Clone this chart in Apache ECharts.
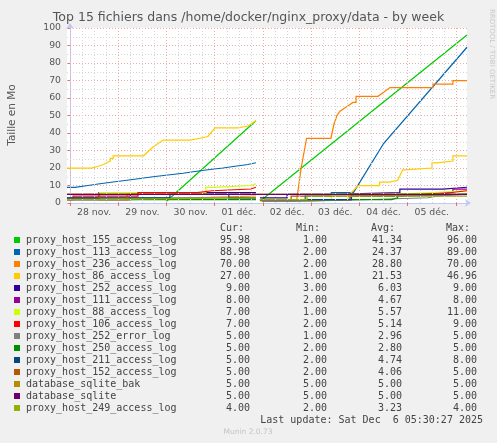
<!DOCTYPE html>
<html><head><meta charset="utf-8">
<script src="https://cdn.jsdelivr.net/npm/echarts@6/dist/echarts.min.js"></script>
<style>html,body{margin:0;padding:0;background:#f0f0f0;}#c{width:497px;height:443px;}</style>
</head><body><div id="c"></div>
<script>
// ---- texts ----
const chartTitle = 'Top 15 fichiers dans /home/docker/nginx_proxy/data - by week';
const yAxisTitle = 'Taille en Mo';
const sideText = 'RRDTOOL / TOBI OETIKER';
const lastUpdate = 'Last update: Sat Dec  6 05:30:27 2025';
const footer = 'Munin 2.0.73';
const colHeaders = ['Cur:', 'Min:', 'Avg:', 'Max:'];

// ---- x axis (hours since 28 nov. 00:00) ----
const dayLabels = ['28 nov.', '29 nov.', '30 nov.', '01 déc.', '02 déc.', '03 déc.', '04 déc.', '05 déc.'];
const dayNoons = [12, 36, 60, 84, 108, 132, 156, 180];
const midnights = [0, 24, 48, 72, 96, 120, 144, 168, 192];
const sixHours = [6, 12, 18, 30, 36, 42, 54, 60, 66, 78, 84, 90, 102, 108, 114, 126, 132, 138, 150, 156, 162, 174, 180, 186];

// ---- legend ----
const names = ['proxy_host_155_access_log', 'proxy_host_113_access_log', 'proxy_host_236_access_log', 'proxy_host_86_access_log',
  'proxy_host_252_access_log', 'proxy_host_111_access_log', 'proxy_host_88_access_log', 'proxy_host_106_access_log',
  'proxy_host_252_error_log', 'proxy_host_250_access_log', 'proxy_host_211_access_log', 'proxy_host_152_access_log',
  'database_sqlite_bak', 'database_sqlite', 'proxy_host_249_access_log'];
const colors = ['#00CC00', '#0066B3', '#FF8000', '#FFCC00', '#330099', '#990099', '#CCFF00', '#FF0000',
  '#808080', '#008F00', '#00487D', '#B35A00', '#B38F00', '#6B006B', '#8FB300'];
const curVals = ['95.98', '88.98', '70.00', '27.00', '9.00', '8.00', '7.00', '7.00', '5.00', '5.00', '5.00', '5.00', '5.00', '5.00', '4.00'];
const minVals = ['1.00', '2.00', '2.00', '1.00', '3.00', '2.00', '1.00', '2.00', '1.00', '2.00', '2.00', '2.00', '5.00', '5.00', '2.00'];
const avgVals = ['41.34', '24.37', '28.80', '21.53', '6.03', '4.67', '5.57', '5.14', '2.96', '2.80', '4.74', '4.06', '5.00', '5.00', '3.23'];
const maxVals = ['96.00', '89.00', '70.00', '46.96', '9.00', '8.00', '11.00', '9.00', '5.00', '5.00', '8.00', '5.00', '5.00', '5.00', '4.00'];

// ---- series: [hour, value] = value held from hour; [hour, value, 1] = straight ramp to it; [hour, null] = gap starts ----
const s155 = [[48, 1], [92.5, 47, 1], [92.5, null], [94.5, 1], [197.5, 96, 1]];
const s113 = [[-1.5, 9], [2.5, 10], [8.9, 11], [14.9, 12], [21.4, 13], [28.4, 14], [34.8, 15], [41.3, 16], [48.7, 17], [56.2, 18],
  [62.2, 19], [68.6, 20], [76.1, 21], [82.1, 22], [88.5, 23], [92.5, null], [94.5, 2], [117, 4], [130, 6], [141, 6], [156, 34, 1], [197.5, 89, 1]];
const s236 = [[-1.5, 2], [30, 3], [60, 4], [92.5, null], [94.5, 2], [112.8, 2], [115, 20, 1], [117.7, 37, 1], [129.8, 37], [131.3, 45, 1],
  [132.8, 50, 1], [134.3, 52.5, 1], [137.6, 55, 1], [140.8, 57.5, 1], [142.3, 61], [153.2, 61], [159.2, 66, 1], [180.5, 68], [190.5, 70], [197.5, 70]];
const s86 = [[-1.5, 20], [10.8, 21], [14.1, 22], [16.6, 23], [18.3, 24], [20, 25.5], [21.5, 27], [36.5, 27], [41.3, 32, 1], [46.4, 36, 1],
  [59.7, 37], [64.7, 38], [68.6, 39], [72.1, 43, 1], [83.6, 44], [88.5, 44], [92.5, 47, 1], [92.5, null], [94.5, 1], [116, 2], [138.3, 4],
  [143.3, 10, 1], [154, 12], [159, 13], [163, 13], [165.5, 19, 1], [166.5, 20], [180.1, 23], [182.6, 24], [190.5, 27], [197.5, 27]];
const s252 = [[-1.5, 3], [14.4, 6], [92.5, null], [94.5, 3], [108, 5], [130.3, 6], [164.1, 8], [185.5, 9], [197.5, 9]];
const s111 = [[-1.5, 2], [30, 5], [92.5, null], [94.5, 2], [140, 5], [182.6, 6], [190.5, 8], [197.5, 8]];
const s88 = [[14.4, 6], [67.6, 9], [71.6, 10], [90, 11], [92.5, null], [94.5, 1], [117, 2], [130, 5], [160, 6], [180, 7], [197.5, 7]];
const s106 = [[-1.5, 2], [1.5, 4], [33.8, 6], [63.2, 7], [70.6, 8], [90, 9], [92.5, null], [94.5, 2], [139.3, 4], [160.7, 5], [175.1, 6], [190, 7], [197.5, 7]];
const s252err = [[-1.5, 3], [92.5, null], [95.5, 1], [110.9, 2], [150, 3], [178, 4], [183, 5], [197.5, 5]];
const s250 = [[-1.5, 2], [92.5, null], [94.5, 2], [160, 3], [163, 5], [197.5, 5]];
const s211 = [[-1.5, 3], [49.7, 5], [79, 3], [92.5, null], [94.5, 2], [140, 4], [165, 5], [197.5, 5]];
const s152 = [[-1.5, 5], [14.4, 2], [28.4, 5], [92.5, null], [94.5, 2], [110, 4], [140, 5], [197.5, 5]];
const sSqliteBak = [[-1.5, 5], [197.5, 5]];
const sSqlite = [[-1.5, 5], [197.5, 5]];
const s249 = [[-1.5, 2], [14.4, 3], [92.5, null], [94.5, 2], [117.9, 4], [197.5, 4]];

const allSeries = [s155, s113, s236, s86, s252, s111, s88, s106, s252err, s250, s211, s152, sSqliteBak, sSqlite, s249];

function build(pts) {
  const out = []; let last = null;
  for (const p of pts) {
    const h = p[0], v = p[1], ramp = p[2];
    if (v === null) { if (last !== null) out.push([h, last]); out.push([h, '-']); last = null; continue; }
    if (last !== null && !ramp && v !== last) out.push([h, last]);
    out.push([h, v]); last = v;
  }
  return out;
}

const chart = echarts.init(document.getElementById('c'), null, { renderer: 'canvas' });
const FONT = 'DejaVu Sans';
const MONO = 'DejaVu Sans Mono';
const GRID = { left: 67, top: 28, width: 400, height: 175 };
const majorColor = '#f0a8a8';
const minorColor = '#d6d6d6';
const axisColor = '#c4c8f4';

const series = [
  { type: 'line', data: [], silent: true, z: 1, animation: false,
    markLine: { silent: true, symbol: 'none', animation: false, label: { show: false },
      lineStyle: { color: minorColor, width: 1, type: [1, 2] }, emphasis: { disabled: true },
      data: sixHours.map(h => ({ xAxis: h })) } },
  { type: 'line', data: [], silent: true, z: 1, animation: false,
    markLine: { silent: true, symbol: 'none', animation: false, label: { show: false },
      lineStyle: { color: majorColor, width: 1, type: [1, 2] }, emphasis: { disabled: true },
      data: midnights.map(h => ({ xAxis: h })) } }
];
allSeries.forEach((s, i) => {
  series.push({
    name: names[i], type: 'line', data: build(s), showSymbol: false, symbol: 'none',
    silent: true, animation: false, connectNulls: false, z: 3,
    lineStyle: { color: colors[i], width: 1.25, cap: 'butt', join: 'miter' }, itemStyle: { color: colors[i] }
  });
});

const graphics = [];
graphics.push({ type: 'text', left: 'center', top: 11, style: { text: chartTitle, fill: '#555', font: '12.5px "' + FONT + '"' } });
graphics.push({ type: 'text', x: 12, y: 115, rotation: Math.PI / 2,
  style: { text: yAxisTitle, fill: '#555', font: '10.5px "' + FONT + '"', align: 'center', verticalAlign: 'middle' } });
graphics.push({ type: 'text', x: 492, y: 54, rotation: -Math.PI / 2,
  style: { text: sideText, fill: '#c8c8c8', font: '7px "' + FONT + '"', align: 'center', verticalAlign: 'middle' } });

const colRight = [250, 327, 402, 477];
const headRight = [244, 320, 395, 470];
colHeaders.forEach((t, j) => graphics.push({ type: 'text', x: headRight[j], y: 228,
  style: { text: t, fill: '#444', font: '10px "' + MONO + '"', align: 'right', verticalAlign: 'middle' } }));
names.forEach((n, i) => {
  const y = 240 + 12 * i;
  graphics.push({ type: 'rect', shape: { x: 14, y: y - 3, width: 6, height: 6 }, style: { fill: colors[i] } });
  graphics.push({ type: 'text', x: 26, y: y, style: { text: n, fill: '#444', font: '10px "' + MONO + '"', align: 'left', verticalAlign: 'middle' } });
  [curVals[i], minVals[i], avgVals[i], maxVals[i]].forEach((v, j) => graphics.push({ type: 'text', x: colRight[j], y: y,
    style: { text: v, fill: '#444', font: '10px "' + MONO + '"', align: 'right', verticalAlign: 'middle' } }));
});
graphics.push({ type: 'text', x: 483, y: 420, style: { text: lastUpdate, fill: '#444', font: '10px "' + MONO + '"', align: 'right', verticalAlign: 'middle' } });
graphics.push({ type: 'text', x: 248, y: 432, style: { text: footer, fill: '#c4c4c4', font: '7.5px "' + FONT + '"', align: 'center', verticalAlign: 'middle' } });

chart.setOption({
  backgroundColor: '#f0f0f0',
  animation: false,
  grid: { ...GRID, show: true, backgroundColor: '#ffffff', borderWidth: 0 },
  xAxis: {
    type: 'value', min: -1.5, max: 197.5,
    axisLine: { show: true, lineStyle: { color: axisColor, width: 1 }, symbol: ['none', 'arrow'], symbolSize: [6, 6], symbolOffset: [0, 4] },
    axisTick: { show: true, length: 3, lineStyle: { color: '#e07070' }, customValues: midnights },
    axisLabel: { show: true, customValues: dayNoons, margin: 5, color: '#555', fontFamily: FONT, fontSize: 9.3,
      formatter: v => dayLabels[dayNoons.indexOf(Math.round(v))] },
    splitLine: { show: false }
  },
  yAxis: {
    type: 'value', min: 0, max: 100, interval: 10,
    axisLine: { show: true, lineStyle: { color: axisColor, width: 1 }, symbol: ['none', 'arrow'], symbolSize: [6, 6], symbolOffset: [0, 5] },
    axisTick: { show: true, length: 2, lineStyle: { color: '#e07070' } },
    axisLabel: { margin: 6, color: '#555', fontFamily: FONT, fontSize: 9.3 },
    splitLine: { show: true, lineStyle: { color: majorColor, width: 1, type: [1, 2] } },
    minorTick: { show: false, splitNumber: 2 },
    minorSplitLine: { show: true, lineStyle: { color: minorColor, width: 1, type: [1, 2] } }
  },
  series: series,
  graphic: graphics
});
</script></body></html>
